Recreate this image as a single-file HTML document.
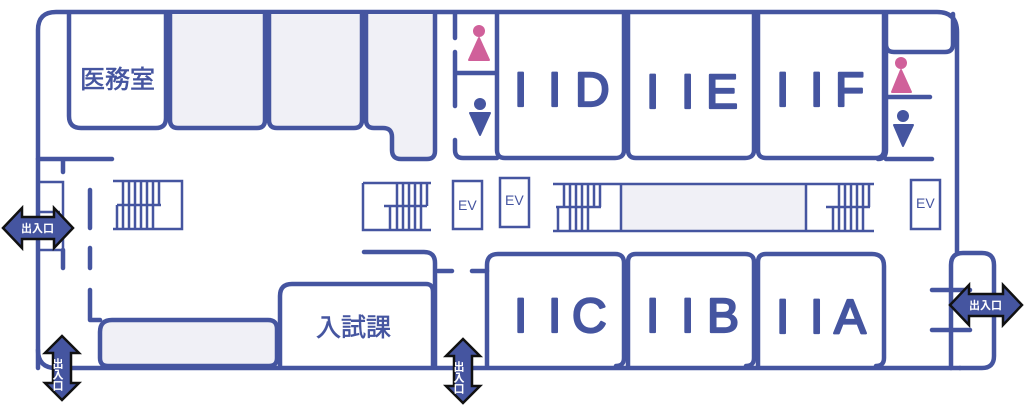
<!DOCTYPE html>
<html><head><meta charset="utf-8"><style>
html,body{margin:0;padding:0;background:#fff;width:1024px;height:405px;overflow:hidden}
svg{display:block}
.w{fill:none;stroke:#4555a0;stroke-width:4.5;stroke-linecap:round;stroke-linejoin:round}
.t{fill:none;stroke:#4555a0;stroke-width:2.5}
.g{fill:#f0f0f6}
.big{font-family:"Liberation Sans",sans-serif;font-weight:normal;font-size:48px;fill:#4555a0;stroke:#4555a0;stroke-width:2.2;stroke-linejoin:round}
.jp{font-family:"Liberation Sans","Noto Sans CJK JP",sans-serif;font-weight:normal;fill:#4555a0;stroke:#4555a0;stroke-width:0.6}
.ev{font-family:"Liberation Sans",sans-serif;font-size:14px;fill:#4555a0}
.ar{fill:#4555a0;stroke:#111;stroke-width:2.5;stroke-linejoin:miter}
.al{font-family:"Liberation Sans","Noto Sans CJK JP",sans-serif;font-weight:bold;font-size:11px;fill:#fff}
</style></head><body>
<svg width="1024" height="405" viewBox="0 0 1024 405">
<path class="w" d="M38,368 V30 Q38,12 56,12 H937 Q957,12 957,32 V252"/>
<path class="w" d="M38,350 Q38,368 56,368 H960"/>
<path class="w" d="M951,368 V265 Q951,253 963,253 H982 Q994,253 994,265 V356 Q994,368 982,368 H960"/>
<path class="w" d="M932,290 H970 M932,330 H970"/>
<path class="w" d="M69,14 V116 Q69,128 81,128 H156 Q166,128 166,118 V14"/>
<path class="w g" d="M170,14 V120 Q170,128 178,128 H257 Q265,128 265,120 V14"/>
<path class="w g" d="M269,14 V120 Q269,128 277,128 H354 Q362,128 362,120 V14"/>
<path class="w g" d="M366,14 V120 Q366,128 374,128 H383 Q392,128 392,137 V150 Q392,159 401,159 H427 Q435,159 435,151 V14"/>
<path class="w" d="M38,159 H112 M63,160 V172 M63,250 V268"/>
<path class="t" d="M40,182 H63 V250 H40 M40,212 H60"/>
<path class="w" d="M90,190 V228 M90,248 V268 M90,290 V320 H100"/>
<path class="t" d="M113,181 H182 V229 H113 M117,205 H161"/>
<g class="t"><path d="M123,181V229 M129,181V229 M135,181V229 M141,181V229 M147,181V229 M153,181V229 M159,181V205 M117,205V229"/></g>
<path class="w g" d="M100,332 Q100,320 112,320 H268 Q277,320 277,329 V358 Q277,366 269,366 H108 Q100,366 100,358 Z"/>
<path class="w" d="M280,366 V296 Q280,284 292,284 H426 Q433,284 433,292 V366"/>
<path class="w" d="M364,252 H424 Q435,252 435,263 V366"/>
<path class="w" d="M438,271 H452 M472,271 H487"/>
<path class="t" d="M363,183 H431 M363,183 V230 H431 M384,206 H427"/>
<g class="t"><path d="M397,183V230 M403,183V230 M409,183V230 M415,183V230 M421,183V230 M427,183V206 M390,206V230"/></g>
<rect class="t" x="453" y="181" width="29" height="48"/><text class="ev" x="458" y="210">EV</text>
<rect class="t" x="500" y="178" width="29" height="49"/><text class="ev" x="505" y="205">EV</text>
<rect class="t" x="911" y="180" width="29" height="49"/><text class="ev" x="916" y="208">EV</text>
<rect class="g" x="621" y="184" width="186" height="46"/>
<path class="t" d="M553,184 H874 M553,231 H874 M621,184 V231 M806,184 V231 M556,207 H601 M826,207 H870"/>
<g class="t"><path d="M564,184V207 M570,184V231 M576,184V231 M582,184V231 M588,184V231 M594,184V207 M558,207V231 M600,184V207
M833,207V231 M839,184V231 M845,184V231 M851,184V231 M857,184V231 M863,184V231 M869,184V207"/></g>
<path class="w" d="M455,14 V38 M455,52 V106 M455,140 V150 Q455,158 463,158 H497 M457,73 H495"/>
<circle cx="479" cy="31" r="6" fill="#d0609a"/><path d="M479,38 L469,60 H489 Z" fill="#d0609a" stroke="#d0609a" stroke-width="2" stroke-linejoin="round"/>
<circle cx="480" cy="104" r="6" fill="#4555a0"/><path d="M470,113 H490 L480,135 Z" fill="#4555a0" stroke="#4555a0" stroke-width="2" stroke-linejoin="round"/>
<path class="w" d="M497,14 V150 Q497,158 505,158 H615 Q624,158 624,150 V14"/>
<path class="w" d="M628,14 V150 Q628,158 636,158 H745 Q754,158 754,150 V14"/>
<path class="w" d="M758,14 V150 Q758,158 766,158 H875 Q884,158 884,150 V14"/>
<path class="w" d="M886,14 V44 Q886,52 894,52 H945 Q953,52 953,44 V14 M886,52 V150 Q886,159 878,159 M886,97 H930 M886,159 H932"/>
<circle cx="901" cy="63" r="6" fill="#d0609a"/><path d="M901,70 L892,92 H911 Z" fill="#d0609a" stroke="#d0609a" stroke-width="2" stroke-linejoin="round"/>
<circle cx="903" cy="116" r="6" fill="#4555a0"/><path d="M894,125 H913 L903,146 Z" fill="#4555a0" stroke="#4555a0" stroke-width="2" stroke-linejoin="round"/>
<path class="w" d="M487,366 V265 Q487,254 498,254 H615 Q624,254 624,263 V358 Q624,366 616,366"/>
<path class="w" d="M628,366 V262 Q628,254 636,254 H745 Q754,254 754,262 V358 Q754,366 746,366"/>
<path class="w" d="M758,366 V262 Q758,254 766,254 H872 Q884,254 884,266 V358 Q884,366 876,366"/>
<text class="jp" x="80" y="88" font-size="25">医務室</text>
<text class="jp" x="316" y="336" font-size="25">入試課</text>
<g class="big">
<text x="514" y="106">I</text><text x="548" y="106">I</text><text x="575" y="106">D</text>
<text x="646" y="108">I</text><text x="681" y="108">I</text><text x="706" y="108">E</text>
<text x="776" y="106">I</text><text x="810" y="106">I</text><text x="835" y="106">F</text>
<text x="514" y="332">I</text><text x="548" y="332">I</text><text x="572" y="332">C</text>
<text x="646" y="332">I</text><text x="681" y="332">I</text><text x="707" y="332">B</text>
<text x="776" y="333">I</text><text x="810" y="333">I</text><text x="834" y="333">A</text>
</g>
<path class="ar" d="M3,228 L22,208 V217 H54 V208 L73,228 L54,248 V239 H22 V248 Z"/>
<text class="al" x="21" y="232">出入口</text>
<path class="ar" d="M950,305 L969,285 V294 H1003 V285 L1022,305 L1003,325 V316 H969 V325 Z"/>
<text class="al" x="969" y="309">出入口</text>
<path class="ar" d="M62,336 L79,353 H71 V383 H79 L62,400 L45,383 H53 V353 H45 Z"/>
<text class="al" x="57" y="358" writing-mode="tb">出入口</text>
<path class="ar" d="M463,339 L480,356 H472 V386 H480 L463,403 L446,386 H454 V356 H446 Z"/>
<text class="al" x="458" y="361" writing-mode="tb">出入口</text>
</svg>
</body></html>
